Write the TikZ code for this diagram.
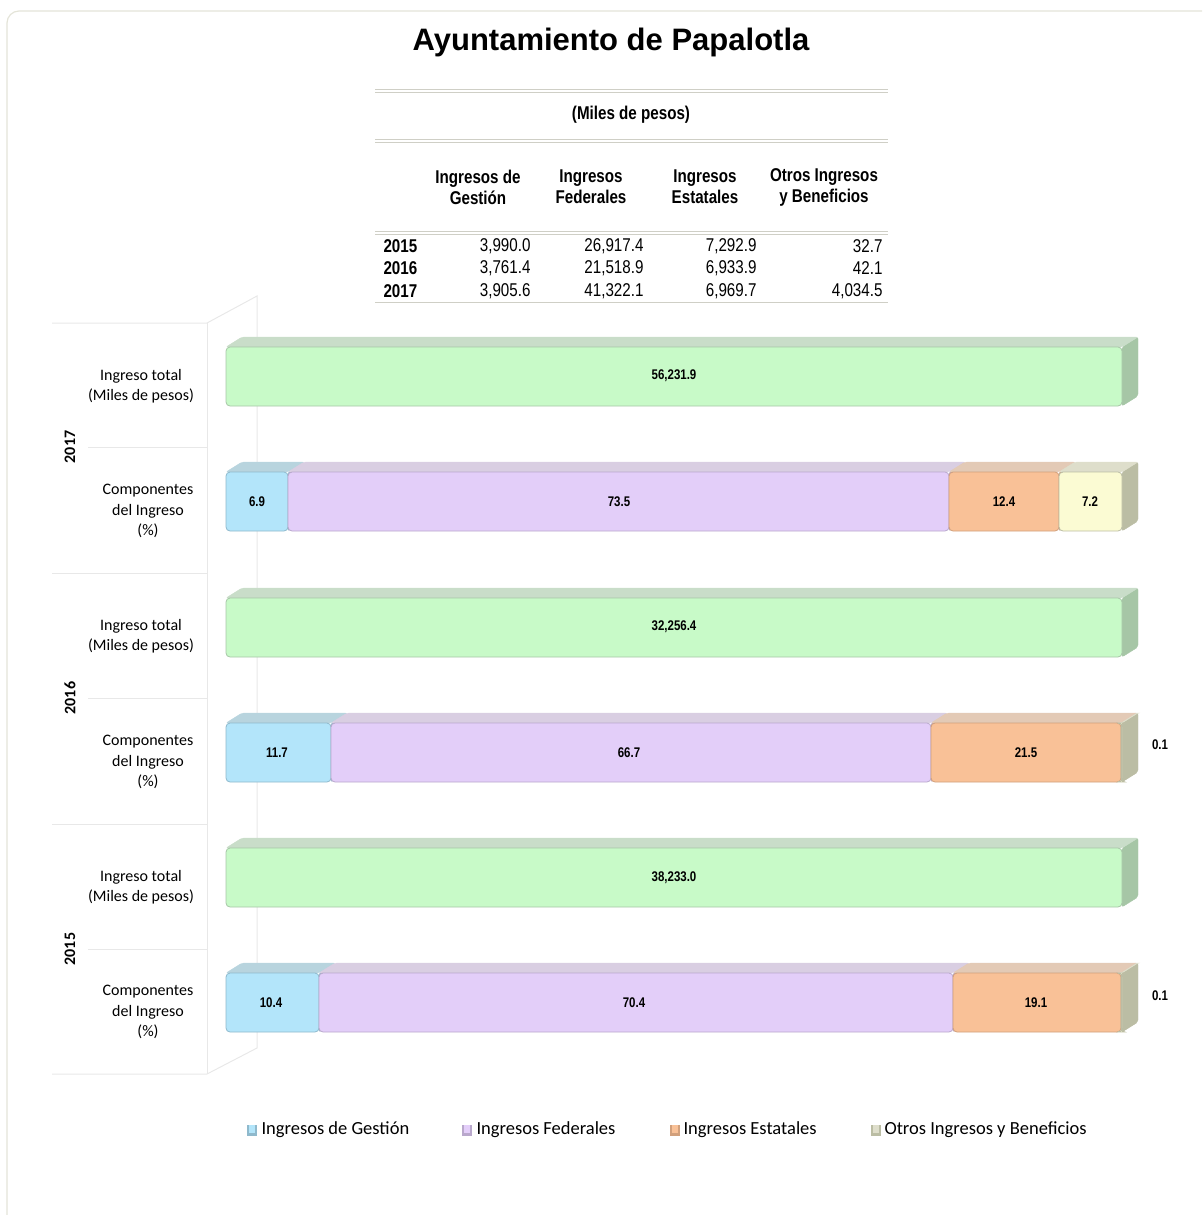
\documentclass[tikz,border=0pt]{standalone}
\usepackage{fontspec}
\setmainfont{Liberation Sans}
\newfontfamily\narrowfont[FakeStretch=0.82]{Liberation Sans}
\newfontfamily\califont{Carlito}

\definecolor{totF}{HTML}{C8FAC8}
\definecolor{totT}{HTML}{C9DDC9}
\definecolor{totS}{HTML}{A6C6A6}
\definecolor{gesF}{HTML}{B3E5FA}
\definecolor{gesT}{HTML}{B8D4DE}
\definecolor{gesS}{HTML}{8FB9CC}
\definecolor{fedF}{HTML}{E3CEF9}
\definecolor{fedT}{HTML}{D9CEE2}
\definecolor{fedS}{HTML}{B9A8CC}
\definecolor{estF}{HTML}{F9C197}
\definecolor{estT}{HTML}{E3CAB6}
\definecolor{estS}{HTML}{D1A07C}
\definecolor{otrF}{HTML}{FBFBD3}
\definecolor{otrT}{HTML}{DEDECB}
\definecolor{otrS}{HTML}{BBBDA4}
\definecolor{gridcol}{HTML}{E8E8E8}
\definecolor{tabcol}{HTML}{CFCFC6}
\definecolor{framecol}{HTML}{E4E4D8}

% one 3-D bar piece: left, right, top of front face, colour set
\newcommand{\barseg}[4]{%
  \filldraw[#4S, rounded corners=2pt] (#2,#3) -- (#2+16,#3-10) -- (#2+16,#3+49) -- (#2,#3+59) -- cycle;
  \filldraw[#4T, rounded corners=2pt] (#1,#3) -- (#1+16,#3-10) -- (#2+16,#3-10) -- (#2,#3) -- cycle;
  \filldraw[fill=#4F, draw=#4S, line width=0.8pt, rounded corners=4pt] (#1,#3) rectangle (#2,#3+59);
}

\tikzset{
  val/.style={font={\narrowfont\bfseries\fontsize{14}{16}\selectfont}},
  rowlab/.style={font={\califont\fontsize{16}{20.5}\selectfont}, align=center},
  yearlab/.style={font={\califont\bfseries\fontsize{16}{18}\selectfont}, rotate=90},
  tabhead/.style={font={\narrowfont\bfseries\fontsize{18.5}{21}\selectfont}, align=center},
  tabnum/.style={font={\narrowfont\fontsize{18.5}{21}\selectfont}, anchor=east},
  tabyear/.style={font={\narrowfont\bfseries\fontsize{18.5}{21}\selectfont}, anchor=west},
  legtext/.style={font={\califont\fontsize{18.5}{20}\selectfont}, anchor=west},
  gridln/.style={gridcol, line width=1pt},
  tabln/.style={tabcol, line width=1pt}
}

\begin{document}
\begin{tikzpicture}[x=1pt,y=-1pt]
\useasboundingbox (0,0) rectangle (1202,1215);
\clip (0,0) rectangle (1202,1215);
\draw[framecol, line width=1.2pt, rounded corners=12pt] (7,11) rectangle (1230,1240);

\node[font={\bfseries\fontsize{31}{36}\selectfont}] (title) at (611,42) {Ayuntamiento de Papalotla};

% table
\draw[tabln] (375,89) -- (888,89);
\draw[tabln] (375,92) -- (888,92);
\draw[tabln] (375,139) -- (888,139);
\draw[tabln] (375,142) -- (888,142);
\draw[tabln] (375,231) -- (888,231);
\draw[tabln] (375,234) -- (888,234);
\draw[tabln] (375,302) -- (888,302);
\node[tabhead] (unit) at (631,115) {(Miles de pesos)};
\node[tabhead] (hges) at (478,187) {Ingresos de\\Gestión};
\node[tabhead] (hfed) at (591,187) {Ingresos\\Federales};
\node[tabhead] (hest) at (705,187) {Ingresos\\Estatales};
\node[tabhead] (hotr) at (824,187) {Otros Ingresos\\y Beneficios};
\node[tabyear] (y15) at (380,246) {2015};
\node[tabyear] (y16) at (380,268) {2016};
\node[tabyear] (y17) at (380,291) {2017};
\node[tabnum] (a15) at (534,246) {3,990.0};
\node[tabnum] (b15) at (647,246) {26,917.4};
\node[tabnum] (c15) at (760,246) {7,292.9};
\node[tabnum] (d15) at (886,246) {32.7};
\node[tabnum] (a16) at (534,268) {3,761.4};
\node[tabnum] (b16) at (647,268) {21,518.9};
\node[tabnum] (c16) at (760,268) {6,933.9};
\node[tabnum] (d16) at (886,268) {42.1};
\node[tabnum] (a17) at (534,291) {3,905.6};
\node[tabnum] (b17) at (647,291) {41,322.1};
\node[tabnum] (c17) at (760,291) {6,969.7};
\node[tabnum] (d17) at (886,291) {4,034.5};

% walls of the chart
\draw[gridln] (52,323) -- (207,323) -- (257,296) -- (257,1048) -- (207,1074) -- (52,1074);
\draw[gridln] (207,323) -- (207,1074);
\draw[gridln] (88,447) -- (207,447);
\draw[gridln] (52,573) -- (207,573);
\draw[gridln] (88,698) -- (207,698);
\draw[gridln] (52,824) -- (207,824);
\draw[gridln] (88,949) -- (207,949);

\node[yearlab] (yr17) at (70,447) {2017};
\node[yearlab] (yr16) at (70,698) {2016};
\node[yearlab] (yr15) at (70,949) {2015};
\node[rowlab] (tot17) at (141,386) {Ingreso total\\(Miles de pesos)};
\node[rowlab] (com17) at (148,511) {Componentes\\del Ingreso\\(\%)};
\node[rowlab] (tot16) at (141,636) {Ingreso total\\(Miles de pesos)};
\node[rowlab] (com16) at (148,762) {Componentes\\del Ingreso\\(\%)};
\node[rowlab] (tot15) at (141,887) {Ingreso total\\(Miles de pesos)};
\node[rowlab] (com15) at (148,1012) {Componentes\\del Ingreso\\(\%)};

% 2017
\barseg{226}{1122}{347}{tot}
\node[val] (v17t) at (674,376) {56,231.9};
\barseg{226}{288}{472}{ges}
\barseg{288}{949}{472}{fed}
\barseg{949}{1059}{472}{est}
\barseg{1059}{1122}{472}{otr}
\node[val] (v17a) at (257,502) {6.9};
\node[val] (v17b) at (619,502) {73.5};
\node[val] (v17c) at (1004,502) {12.4};
\node[val] (v17d) at (1090,502) {7.2};

% 2016
\barseg{226}{1122}{598}{tot}
\node[val] (v16t) at (674,627) {32,256.4};
\barseg{226}{331}{723}{ges}
\barseg{331}{931}{723}{fed}
\barseg{931}{1121}{723}{est}
\barseg{1121}{1122}{723}{otr}
\node[val] (v16a) at (277,753) {11.7};
\node[val] (v16b) at (629,753) {66.7};
\node[val] (v16c) at (1026,753) {21.5};
\node[val] (v16d) at (1160,745) {0.1};

% 2015
\barseg{226}{1122}{848}{tot}
\node[val] (v15t) at (674,878) {38,233.0};
\barseg{226}{319}{973}{ges}
\barseg{319}{953}{973}{fed}
\barseg{953}{1121}{973}{est}
\barseg{1121}{1122}{973}{otr}
\node[val] (v15a) at (271,1003) {10.4};
\node[val] (v15b) at (634,1003) {70.4};
\node[val] (v15c) at (1036,1003) {19.1};
\node[val] (v15d) at (1160,996) {0.1};

% legend
\fill[gesS] (247,1125) rectangle (257,1136);
\fill[gesF] (249,1125) rectangle (255,1133);
\node[legtext] (lges) at (258,1130) {Ingresos de Gestión};
\fill[fedS] (462,1125) rectangle (472,1136);
\fill[fedF] (464,1125) rectangle (470,1133);
\node[legtext] (lfed) at (473,1130) {Ingresos Federales};
\fill[estS] (670,1125) rectangle (680,1136);
\fill[estF] (672,1125) rectangle (678,1133);
\node[legtext] (lest) at (680,1130) {Ingresos Estatales};
\fill[otrS] (871,1125) rectangle (881,1136);
\fill[otrT] (873,1125) rectangle (879,1133);
\node[legtext] (lotr) at (881,1130) {Otros Ingresos y Beneficios};
\end{tikzpicture}
\end{document}
